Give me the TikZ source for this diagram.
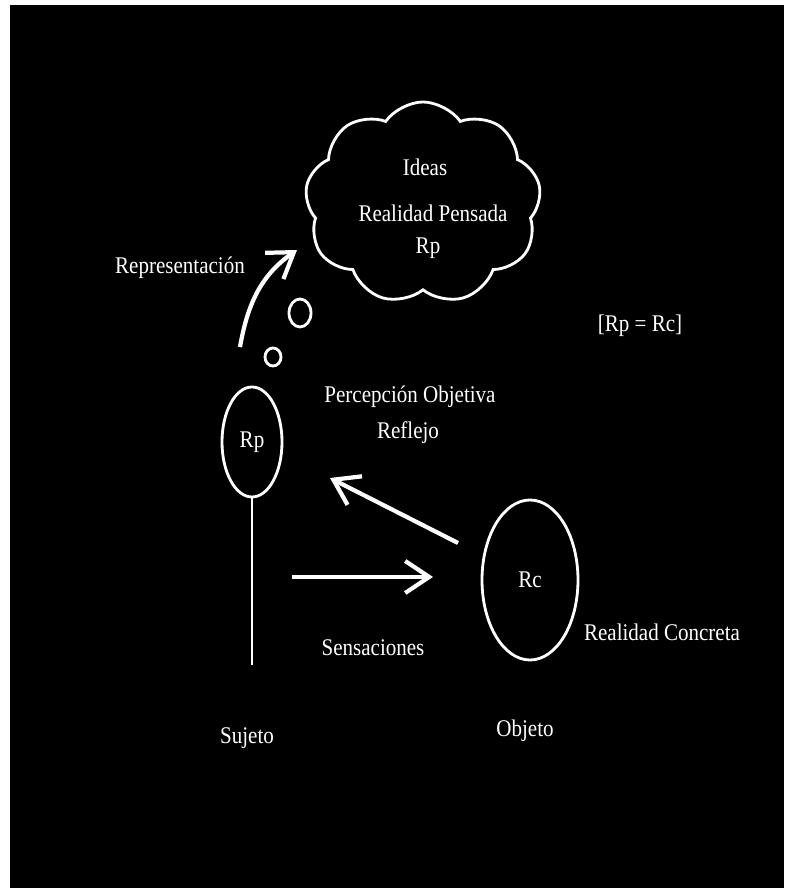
\documentclass[tikz,border=0pt]{standalone}
\usepackage{fontspec}
\setmainfont{Liberation Serif}
\usetikzlibrary{arrows.meta,shapes.geometric,shapes.symbols}

\begin{document}
\begin{tikzpicture}[>={Straight Barb[length=6mm,width=8mm]},
    lbl/.style={text=white, font=\fontsize{17}{20}\selectfont, xscale=0.88},
    rim/.style={draw=white, line width=2pt},
    ray/.style={->, white, line width=3pt}]
    \fill[white] (0,0) rectangle (19.6,22.2);
    \fill[black] (0.25,0) rectangle (19.6,22.075);

    \node[rim, cloud, cloud puffs=9, cloud puff arc=110, minimum width=5.9cm, minimum height=5.05cm, inner sep=0pt] (cloud) at (10.575,17.125) {};
    \node[lbl] (ideas) at (10.625,18.025) {Ideas};
    \node[lbl] (pensada) at (10.825,16.875) {Realidad Pensada};
    \node[lbl] (rpA) at (10.7,16.0) {Rp};
    \node[rim, ellipse, minimum width=0.55cm, minimum height=0.7cm, inner sep=0pt] (bubA) at (7.5,14.375) {};
    \node[rim, ellipse, minimum width=0.4cm, minimum height=0.45cm, inner sep=0pt] (bubB) at (6.825,13.275) {};

    \node[rim, ellipse, minimum width=1.5cm, minimum height=2.75cm, inner sep=0pt] (rp) at (6.3,11.15) {};
    \node[lbl] at (rp) {Rp};
    \node[rim, ellipse, minimum width=2.4cm, minimum height=4cm, inner sep=0pt] (rc) at (13.25,7.7) {};
    \node[lbl] at (rc) {Rc};
    \coordinate (foot) at (6.3,5.575);
    \draw[white, line width=2pt] (rp.south) -- (foot);

    \coordinate (rep0) at (6.0,13.525);
    \coordinate (rep1) at (7.425,15.95);
    \draw[ray] (rep0) to[out=80, in=215] (rep1);

    \coordinate (sens0) at (7.3,7.775);
    \coordinate (sens1) at (10.825,7.775);
    \draw[ray] (sens0) -- (sens1);

    \coordinate (refl0) at (11.45,8.625);
    \coordinate (refl1) at (8.25,10.25);
    \draw[ray] (refl0) -- (refl1);

    \node[lbl] (rep) at (4.5,15.5) {Representación};
    \node[lbl] (perc) at (10.25,12.275) {Percepción Objetiva};
    \node[lbl] (refl) at (10.2,11.375) {Reflejo};
    \node[lbl] (eq) at (16.0,14.05) {[Rp = Rc]};
    \node[lbl] (rconc) at (16.55,6.4) {Realidad Concreta};
    \node[lbl] (sens) at (9.325,6.0) {Sensaciones};
    \node[lbl] (suj) at (6.175,3.75) {Sujeto};
    \node[lbl] (obj) at (13.125,3.925) {Objeto};
\end{tikzpicture}
\end{document}
